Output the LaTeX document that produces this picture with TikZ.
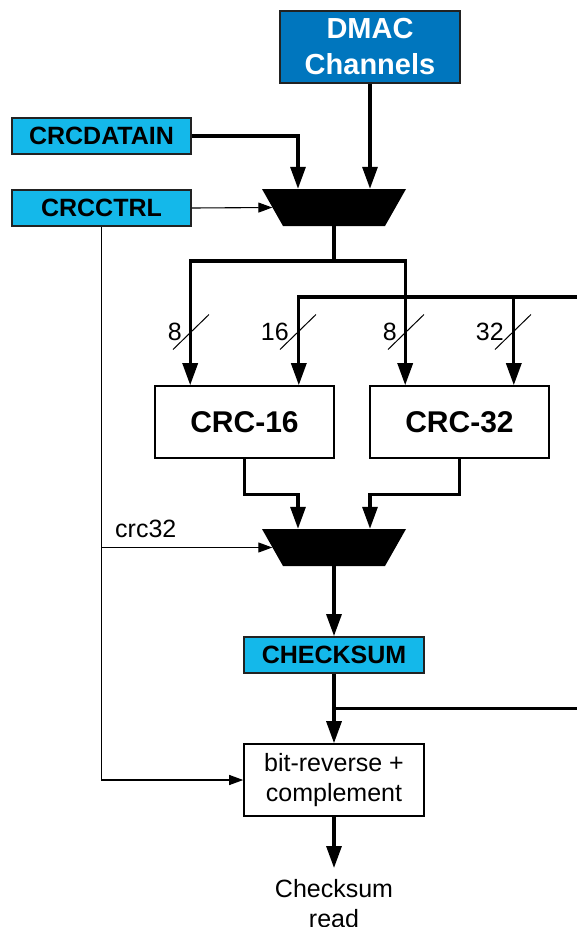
\documentclass[tikz,border=0pt]{standalone}
\usepackage{fontspec}
\setmainfont{Liberation Sans}
\usetikzlibrary{arrows.meta}
\definecolor{cyanbox}{RGB}{20,184,234}
\definecolor{dmacblue}{RGB}{0,118,190}
\definecolor{edgegray}{RGB}{34,34,34}
\begin{document}
\begin{tikzpicture}[x=1pt,y=-1pt,
  font=\fontsize{25}{30}\selectfont,
  bus/.style={line width=3.2pt, -{Triangle[length=22pt,width=15pt]}},
  busline/.style={line width=3.2pt},
  ctl/.style={line width=1.1pt, -{Triangle[length=14pt,width=10pt]}},
  slashline/.style={line width=1pt},
  regbox/.style={draw=edgegray, line width=1.8pt, fill=cyanbox, minimum width=179pt, minimum height=36pt, inner sep=0pt, font=\fontsize{25}{30}\selectfont\bfseries},
  crcbox/.style={draw=black, line width=1.6pt, fill=white, minimum width=179pt, minimum height=72pt, inner sep=0pt, font=\fontsize{30}{34}\selectfont\bfseries},
  muxbox/.style={minimum width=144pt, minimum height=37pt, inner sep=0pt,
    path picture={\fill[black] (path picture bounding box.north west) -- (path picture bounding box.north east) -- ([xshift=-21pt]path picture bounding box.south east) -- ([xshift=21pt]path picture bounding box.south west) -- cycle;}},
  widthlbl/.style={anchor=east, inner sep=0pt, font=\fontsize{25}{30}\selectfont},
]
\useasboundingbox (0,0) rectangle (577,927);

% nodes
\node[draw=edgegray, line width=1.8pt, fill=dmacblue, text=white, minimum width=180pt, minimum height=72pt, inner sep=0pt, align=center, font=\fontsize{29}{36}\selectfont\bfseries] (dmac) at (370,47) {DMAC\\Channels};
\node[regbox] (din) at (101.5,136) {CRCDATAIN};
\node[regbox] (ctrl) at (101.5,208) {CRCCTRL};
\node[muxbox] (mux1) at (334,207.5) {};
\node[crcbox] (crc16) at (244.5,422) {CRC-16};
\node[crcbox] (crc32) at (459.5,422) {CRC-32};
\node[muxbox] (mux2) at (334,547.5) {};
\node[regbox, minimum width=180pt] (chk) at (334,655) {CHECKSUM};
\node[draw=black, line width=1.6pt, fill=white, minimum width=180pt, minimum height=72pt, inner sep=0pt, align=center, font=\fontsize{25}{30}\selectfont] (rev) at (334,780) {bit-reverse +\\complement};
\coordinate (readtop) at (334,868);
\node[anchor=north, inner sep=0pt, align=center] (read) at (334,879.5) {Checksum\\read};

% inputs to first mux
\draw[bus] (dmac.south) -- (dmac.south |- mux1.north);
\draw[bus] (din.east) -| ([xshift=-36pt]mux1.north);
\draw[ctl] (ctrl.east) -- ([xshift=10.5pt]mux1.west);

% distribution to CRC blocks
\coordinate (split1) at (334,261);
\draw[busline] (mux1.south) -- (split1);
\draw[bus] (split1) -| ([xshift=36pt]crc16.north west);
\draw[bus] (split1) -| ([xshift=36pt]crc32.north west);
\coordinate (bus2) at (577,297);
\coordinate (c32b) at ([xshift=-36pt]crc32.north east);
\draw[bus] (bus2) -| ([xshift=-36pt]crc16.north east);
\draw[bus] (bus2 -| c32b) -- (c32b);

% bus width marks
\foreach \x/\lab/\nm in {191/8/wa,298/16/wb,406/8/wc,513/32/wd} {
  \draw[slashline] (\x-18,349.5) -- (\x+18,314.5);
  \node[widthlbl] (\nm) at (\x-9,332) {\lab};
}

% CRC outputs to second mux
\draw[bus] (crc16.south) -- ++(0,35.5) -| ([xshift=-36pt]mux2.north);
\draw[bus] (crc32.south) -- ++(0,35.5) -| ([xshift=36pt]mux2.north);

% control lines
\draw[ctl] (ctrl.south) |- (rev.west);
\draw[ctl] (ctrl.south |- mux2.west) -- ([xshift=10.5pt]mux2.west);
\node[anchor=base west, inner sep=0pt] (crclbl) at (115,537.3) {crc32};

% output path
\draw[bus] (mux2.south) -- (chk.north);
\draw[bus] (chk.south) -- (rev.north);
\coordinate (out2) at (577,708.3);
\draw[busline] (chk.south |- out2) -- (out2);
\draw[bus] (rev.south) -- (readtop);
\end{tikzpicture}
\end{document}
